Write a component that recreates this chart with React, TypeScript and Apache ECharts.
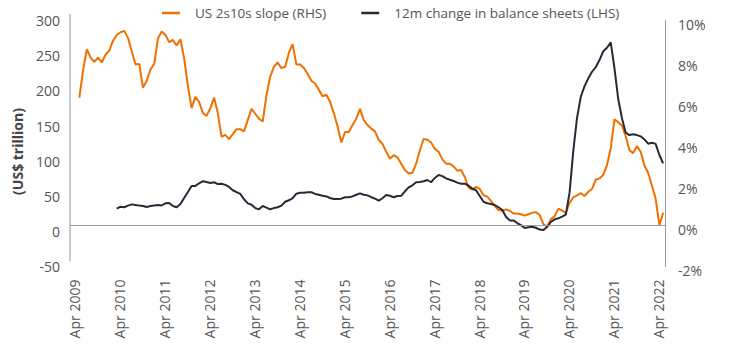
import React, { useEffect, useRef } from "react";
import * as echarts from "echarts";

const MONTHS = ["Jan", "Feb", "Mar", "Apr", "May", "Jun", "Jul", "Aug", "Sep", "Oct", "Nov", "Dec"];
// Monthly categories Feb 2009 .. Apr 2022
const categories: string[] = [];
for (let i = 0; i < 159; i++) {
  const m = (1 + i) % 12;
  const y = 2009 + Math.floor((1 + i) / 12);
  categories.push(`${MONTHS[m]} ${y}`);
}

const leftTicks = { min: -50, max: 300, interval: 50 };
const rightTicks = { min: -2, max: 10, interval: 2 };

const slopeName = "US 2s10s slope (RHS)";
const balanceName = "12m change in balance sheets (LHS)";
const leftAxisName = "(US$ trillion)";

// orange series (left-axis units)
const slope: (number | null)[] = [
  null, null, 182, 221, 251, 239, 233, 239, 232, 243,
  249, 263, 271, 275, 277, 267, 248, 229, 230, 196,
  206, 222, 230, 266, 276, 271, 261, 264, 256, 265,
  238, 199, 167, 183, 176, 160, 156, 167, 182, 160,
  126, 129, 123, 130, 137, 137, 134, 150, 166, 159,
  152, 148, 185, 212, 226, 232, 224, 226, 246, 258,
  229, 229, 224, 216, 206, 202, 193, 184, 186, 176,
  160, 141, 118, 133, 133, 143, 152, 166, 150, 143,
  138, 134, 122, 116, 105, 95, 100, 97, 88, 79,
  74, 75, 88, 107, 123, 122, 118, 109, 105, 94,
  88, 88, 84, 78, 79, 69, 54, 51, 55, 52,
  43, 41, 35, 28, 22, 21, 23, 21, 17, 17,
  16, 14, 16, 18, 19, 15, 2, -2, 9, 13,
  24, 21, 18, 32, 40, 43, 46, 42, 48, 52,
  65, 67, 72, 86, 110, 151, 147, 142, 127, 107,
  103, 113, 105, 85, 75, 57, 38, 0, 18,
];

// dark series (right-axis %)
const balance: (number | null)[] = [
  null, null, null, null, null, null, null, null, null, null,
  null, null, 0.82, 0.92, 0.89, 0.97, 1.03, 1.0, 0.97, 0.95,
  0.9, 0.95, 0.98, 1.0, 0.98, 1.08, 1.1, 0.95, 0.89, 1.05,
  1.34, 1.63, 1.93, 1.93, 2.06, 2.16, 2.12, 2.07, 2.11, 2.02,
  2.04, 1.98, 1.88, 1.72, 1.63, 1.54, 1.28, 1.08, 1.01, 0.85,
  0.79, 0.95, 0.87, 0.79, 0.85, 0.89, 0.97, 1.16, 1.23, 1.33,
  1.55, 1.6, 1.6, 1.62, 1.62, 1.54, 1.5, 1.45, 1.42, 1.34,
  1.29, 1.29, 1.31, 1.38, 1.38, 1.42, 1.5, 1.57, 1.5, 1.47,
  1.38, 1.31, 1.21, 1.33, 1.49, 1.45, 1.38, 1.44, 1.45, 1.67,
  1.86, 1.96, 2.11, 2.12, 2.16, 2.22, 2.11, 2.32, 2.46, 2.41,
  2.3, 2.23, 2.17, 2.09, 2.04, 2.04, 1.94, 1.8, 1.72, 1.44,
  1.16, 1.08, 1.05, 1.0, 0.89, 0.77, 0.43, 0.25, 0.25, 0.12,
  0.02, -0.12, -0.09, -0.06, -0.11, -0.2, -0.22, -0.07, 0.17, 0.3,
  0.35, 0.43, 0.53, 1.6, 3.65, 5.26, 6.28, 6.8, 7.18, 7.5,
  7.73, 8.07, 8.5, 8.67, 8.93, 7.67, 6.17, 5.23, 4.53, 4.41,
  4.45, 4.41, 4.35, 4.2, 3.99, 4.04, 3.98, 3.44, 3.03,
];

const FONT = "'Open Sans', 'Noto Sans', sans-serif";
const TEXT = "#555555";
const labelFont = { color: TEXT, fontSize: 14, fontFamily: FONT };

export default function App() {
  const ref = useRef<HTMLDivElement>(null);
  useEffect(() => {
    document.body.style.margin = "0";
    if (!ref.current) return;
    const chart = echarts.init(ref.current, undefined, { renderer: "svg" });
    chart.setOption({
      animation: false,
      textStyle: { fontFamily: FONT },
      legend: {
        left: 162,
        top: 6,
        padding: 0,
        itemWidth: 18,
        itemHeight: 2.5,
        itemGap: 35,
        icon: "rect",
        textStyle: { color: TEXT, fontSize: 13.5, fontFamily: FONT, padding: [0, 0, 0, 10] },
        data: [slopeName, balanceName],
      },
      graphic: [
        {
          type: "text",
          x: 17,
          y: 151.5,
          rotation: Math.PI / 2,
          style: {
            text: leftAxisName,
            fill: "#444",
            font: `bold 14px ${FONT}`,
            align: "center",
            verticalAlign: "middle",
          },
        },
      ],
      grid: [
        { left: 70, right: 75, top: 14.7, height: 245.9 },
        { left: 70, right: 75, top: 20.5, height: 246 },
      ],
      xAxis: [
        {
          type: "category",
          gridIndex: 0,
          data: categories,
          boundaryGap: true,
          axisLine: { show: false },
          axisTick: { show: false },
          axisLabel: {
            rotate: 90,
            margin: 19,
            ...labelFont,
            interval: (_i: number, v: string) => v.startsWith("Apr"),
            formatter: (v: string) => `{a|${v}}`,
            rich: { a: { ...labelFont, padding: [0, 0, 9, 0] } },
          },
        },
        {
          type: "category",
          gridIndex: 1,
          data: categories,
          boundaryGap: true,
          show: false,
        },
      ],
      yAxis: [
        {
          type: "value",
          gridIndex: 0,
          min: leftTicks.min,
          max: leftTicks.max,
          interval: leftTicks.interval,
          axisLine: { show: true, lineStyle: { color: "#c9cad0", width: 2 } },
          axisTick: { show: false },
          splitLine: { show: false },
          axisLabel: {
            ...labelFont,
            margin: 10,
            formatter: (v: number) => `{a|${v}}`,
            rich: { a: { ...labelFont, padding: [12, 0, 0, 0] } },
          },
        },
        {
          type: "value",
          gridIndex: 1,
          position: "right",
          min: rightTicks.min,
          max: rightTicks.max,
          interval: rightTicks.interval,
          axisLine: { show: true, lineStyle: { color: "#999999", width: 1 } },
          axisTick: { show: false },
          splitLine: { show: false },
          axisLabel: {
            ...labelFont,
            margin: 13,
            formatter: (v: number) => `{a|${v}%}`,
            rich: { a: { ...labelFont, padding: [8, 0, 0, 0] } },
          },
        },
      ],
      series: [
        {
          name: slopeName,
          type: "line",
          xAxisIndex: 0,
          yAxisIndex: 0,
          data: slope,
          showSymbol: false,
          symbol: "none",
          z: 2,
          lineStyle: { color: "#f07000", width: 2 },
          itemStyle: { color: "#f07000" },
          markLine: {
            silent: true,
            symbol: ["none", "none"],
            label: { show: false },
            lineStyle: { color: "#9a9a9a", width: 1, type: "solid" },
            data: [{ yAxis: 0 }],
          },
        },
        {
          name: balanceName,
          type: "line",
          xAxisIndex: 1,
          yAxisIndex: 1,
          data: balance,
          showSymbol: false,
          symbol: "none",
          z: 3,
          lineStyle: { color: "#252a36", width: 2 },
          itemStyle: { color: "#252a36" },
        },
      ],
    });
    return () => chart.dispose();
  }, []);
  return <div ref={ref} style={{ width: 740, height: 350 }} />;
}
